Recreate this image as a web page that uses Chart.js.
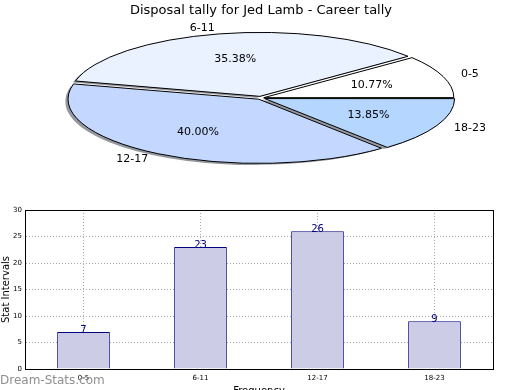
<!DOCTYPE html>
<html><head><meta charset="utf-8">
<script src="https://cdn.jsdelivr.net/npm/chart.js@4"></script>
<style>
html,body{margin:0;padding:0;background:#fff;width:520px;height:390px;overflow:hidden}
canvas{position:absolute;left:0;top:0}
</style></head>
<body>
<canvas id="pie" width="520" height="390"></canvas>
<canvas id="bar" width="520" height="390"></canvas>
<script>
const chartTitle = 'Disposal tally for Jed Lamb - Career tally';
const categories = ['0-5', '6-11', '12-17', '18-23'];
const tallies = [7, 23, 26, 9];
const sliceColors = ['#ffffff', '#eaf1ff', '#c4d8ff', '#b4d6ff'];
const explode = [11.7, 20, 17, 16.2];
const yTicks = [0, 5, 10, 15, 20, 25, 30];
const xAxisTitle = 'Frequency';
const yAxisTitle = 'Stat Intervals';
const watermark = 'Dream-Stats.com';

const FONT = 'DejaVu Sans';
const K = 63.6 / 189;

// Pie drawn clockwise by Chart.js; reverse to mimic counter-clockwise order
const pieLabels = categories.slice().reverse();
const pieData = tallies.slice().reverse();
const pieColors = sliceColors.slice().reverse();
const pieOffsets = explode.slice().reverse();
const total = tallies.reduce((a, b) => a + b, 0);

function shift(arc) {
  const off = (arc.options.offset || 0) / 4;
  const half = (arc.startAngle + arc.endAngle) / 2;
  const circ = arc.endAngle - arc.startAngle;
  const fix = 1 - Math.sin(Math.min(Math.PI, circ));
  const t = off * (1 + fix);
  return {x: Math.cos(half) * t, y: Math.sin(half) * t, half};
}

const ellipsePlugin = {
  id: 'ellipse',
  beforeDatasetsDraw(chart) {
    const ctx = chart.ctx;
    const meta = chart.getDatasetMeta(0);
    const cx = meta.data[0].x, cy = meta.data[0].y;
    ctx.save();
    ctx.translate(cx, cy); ctx.scale(1, K); ctx.translate(-cx, -cy);
    ctx.save();
    ctx.translate(-3.5, 1.8 / K);
    ctx.fillStyle = 'rgba(45,50,65,0.5)';
    meta.data.forEach(arc => {
      const s = shift(arc);
      ctx.beginPath();
      ctx.moveTo(arc.x + s.x, arc.y + s.y);
      ctx.arc(arc.x + s.x, arc.y + s.y, arc.outerRadius, arc.startAngle, arc.endAngle);
      ctx.closePath();
      ctx.fill();
    });
    ctx.restore();
    const orig = CanvasRenderingContext2D.prototype.stroke;
    ctx.stroke = function () {
      this.save(); this.setTransform(1, 0, 0, 1, 0, 0);
      orig.apply(this, arguments);
      this.restore();
    };
  },
  afterDatasetsDraw(chart) {
    const ctx = chart.ctx;
    delete ctx.stroke;
    ctx.restore();
    const meta = chart.getDatasetMeta(0);
    const ds = chart.data.datasets[0];
    ctx.save();
    ctx.fillStyle = '#000';
    ctx.font = '11px "' + FONT + '"';
    ctx.textBaseline = 'middle';
    meta.data.forEach((arc, i) => {
      const s = shift(arc);
      const c = Math.cos(s.half), sn = Math.sin(s.half);
      const r = arc.outerRadius;
      const pct = (ds.data[i] / total * 100).toFixed(2) + '%';
      ctx.textAlign = 'center';
      ctx.fillText(pct, arc.x + s.x + r * 0.6 * c, arc.y + K * (s.y + r * 0.6 * sn));
      ctx.textAlign = c >= 0 ? 'left' : 'right';
      ctx.fillText(chart.data.labels[i], arc.x + s.x + r * 1.1 * c, arc.y + K * (s.y + r * 1.1 * sn));
    });
    ctx.restore();
  }
};

new Chart(document.getElementById('pie'), {
  type: 'pie',
  data: {
    labels: pieLabels,
    datasets: [{
      data: pieData,
      backgroundColor: pieColors,
      borderColor: '#000',
      borderWidth: 1,
      offset: pieOffsets,
      hoverOffset: 0,
      radius: 189,
      clip: false
    }]
  },
  options: {
    responsive: false,
    animation: false,
    events: [],
    rotation: 90,
    layout: {padding: {top: 0, bottom: 212.6, left: 2, right: 0}},
    plugins: {
      legend: {display: false},
      tooltip: {enabled: false},
      title: {
        display: true, text: chartTitle, color: '#000',
        font: {family: FONT, size: 13, weight: 'normal'},
        padding: {top: 3, bottom: 0}
      }
    }
  },
  plugins: [ellipsePlugin]
});

const barPlugin = {
  id: 'barExtras',
  afterDatasetsDraw(chart) {
    const ctx = chart.ctx;
    const meta = chart.getDatasetMeta(0);
    ctx.save();
    ctx.fillStyle = '#000080';
    ctx.font = '10px "' + FONT + '"';
    ctx.textAlign = 'center';
    ctx.textBaseline = 'alphabetic';
    meta.data.forEach((bar, i) => {
      ctx.fillText(String(chart.data.datasets[0].data[i]), bar.x, bar.y + 1);
    });
    ctx.restore();
  },
  afterDraw(chart) {
    const ctx = chart.ctx;
    const a = chart.chartArea;
    ctx.save();
    ctx.strokeStyle = '#000';
    ctx.lineWidth = 1;
    ctx.strokeRect(Math.round(a.left) + 0.5, Math.round(a.top) + 0.5, Math.round(a.right - a.left), Math.round(a.bottom - a.top));
    ctx.fillStyle = '#8f8f8f';
    ctx.font = '12px "' + FONT + '"';
    ctx.textAlign = 'left';
    ctx.textBaseline = 'alphabetic';
    ctx.fillText(watermark, 0, 384);
    ctx.restore();
  }
};

new Chart(document.getElementById('bar'), {
  type: 'bar',
  data: {
    labels: categories,
    datasets: [{
      data: tallies,
      backgroundColor: '#ccccE6',
      borderColor: '#000080',
      borderWidth: 1,
      barPercentage: 0.45,
      categoryPercentage: 1
    }]
  },
  options: {
    responsive: false,
    animation: false,
    events: [],
    layout: {padding: {left: 0, right: 27, top: 210, bottom: 0}},
    plugins: {legend: {display: false}, tooltip: {enabled: false}},
    scales: {
      x: {
        offset: true,
        grid: {offset: false, color: '#a8a8a8', drawTicks: false},
        border: {display: true, color: '#000', dash: [1, 2]},
        ticks: {font: {family: FONT, size: 7}, color: '#000', padding: 5},
        title: {display: true, text: xAxisTitle, color: '#000', font: {family: FONT, size: 10}, padding: {top: 0, bottom: -7}},
        afterFit(s) { s.height = 21; }
      },
      y: {
        min: 0, max: 30,
        afterBuildTicks(s) { s.ticks = yTicks.map(v => ({value: v})); },
        grid: {color: '#a8a8a8', drawTicks: false},
        border: {display: true, color: '#000', dash: [1, 2]},
        ticks: {font: {family: FONT, size: 7}, color: '#000', padding: 3},
        title: {display: true, text: yAxisTitle, color: '#000', font: {family: FONT, size: 10}, padding: {top: 0, bottom: 0}},
        afterFit(s) { s.width = 25; }
      }
    }
  },
  plugins: [barPlugin]
});
</script>
</body></html>
